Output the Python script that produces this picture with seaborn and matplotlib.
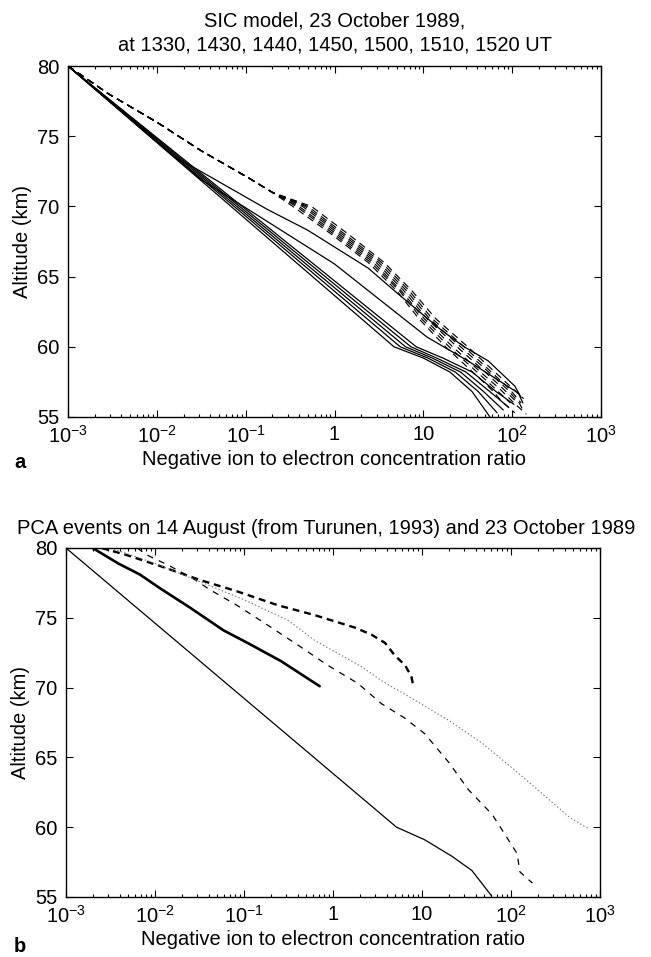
import numpy as np
import pandas as pd
import seaborn as sns
import matplotlib.pyplot as plt
from matplotlib.ticker import FixedLocator, FixedFormatter, LogLocator, NullFormatter

# ---- panel a: SIC model, values read as log10(ratio) vs altitude (km) ----
# five solid curves of the main bundle
bundle_alt = [80, 60.0, 59.2, 58.2, 56.8, 55.4]
bundle1_exp = [-3, 0.67, 1.00, 1.30, 1.55, 1.75]
bundle2_exp = [-3, 0.74, 1.05, 1.36, 1.62, 1.83]
bundle3_exp = [-3, 0.80, 1.10, 1.42, 1.68, 1.90]
bundle4_exp = [-3, 0.86, 1.15, 1.48, 1.75, 1.96]
bundle5_exp = [-3, 0.92, 1.22, 1.55, 1.82, 2.02]
bundle_end_alt = [55.0, 55.3, 55.5, 55.7, 55.9]

# two solid curves that leave the bundle
solid_mid_alt = [80, 71.9, 65.9, 60.7, 59.0, 57.8, 56.7, 56.0]
solid_mid_exp = [-3, -1.5, 0.0, 1.04, 1.50, 1.80, 2.07, 2.12]
solid_up_alt = [80, 73.5, 72.8, 69.8, 68.3, 65.6, 63.8, 61.2, 60.0, 59.0, 57.2, 56.4]
solid_up_exp = [-3, -1.8, -1.59, -0.76, -0.30, 0.38, 0.71, 1.20, 1.46, 1.73, 2.03, 2.10]

# seven dashed curves, common upper part then a fan
dash_alt = [80, 78, 76, 74, 72, 71, 70, 68, 66, 64, 62, 60, 58, 57]
dash_top_exp = [-3, -2.54, -2.00, -1.51, -0.96, -0.70]
dash1_exp = [-0.26, 0.16, 0.56, 0.87, 1.14, 1.50, 1.84, 2.01]
dash2_exp = [-0.30, 0.12, 0.53, 0.84, 1.10, 1.46, 1.80, 1.97]
dash3_exp = [-0.33, 0.09, 0.50, 0.81, 1.07, 1.42, 1.77, 1.94]
dash4_exp = [-0.36, 0.06, 0.47, 0.78, 1.04, 1.38, 1.73, 1.90]
dash5_exp = [-0.40, 0.03, 0.44, 0.75, 1.01, 1.33, 1.68, 1.86]
dash6_exp = [-0.43, 0.00, 0.41, 0.73, 0.98, 1.29, 1.64, 1.81]
dash7_exp = [-0.47, -0.03, 0.38, 0.70, 0.95, 1.25, 1.59, 1.76]
dash_tail_exp = [[2.13], [2.10], [2.08, 2.12], [2.06], [2.02, 2.16], [1.98], [1.90, 2.03]]
dash_tail_alt = [[56.3], [56.0], [56.0, 55.5], [56.0], [56.0, 55.2], [56.0], [56.0, 55.3]]

# ---- panel b: PCA events ----
thin_alt = [80, 60.0, 59.1, 57.9, 56.9, 55.1]
thin_exp = [-3, 0.714, 1.03, 1.34, 1.56, 1.78]

thick_alt = [80, 78.9, 78.1, 77.1, 75.7, 74.1, 73.2, 71.9, 70.1]
thick_exp = [-2.70, -2.415, -2.17, -1.94, -1.60, -1.23, -0.96, -0.585, -0.15]

heavy_alt = [80, 79.5, 78.7, 77.7, 76.9, 75.9, 75.2, 74.3, 73.8, 73.2, 72.3, 71.6, 70.8, 70.2]
heavy_exp = [-2.6, -2.32, -1.94, -1.49, -1.08, -0.62, -0.21, 0.245, 0.43, 0.585, 0.695, 0.81, 0.88, 0.90]

tdash_alt = [80, 79.5, 78.7, 77.8, 77.0, 75.9, 74.5, 72.9, 71.6, 70.3, 68.85, 67.8, 66.7,
             64.65, 62.7, 60.9, 58.8, 58.1, 57.2, 56.8, 56.0]
tdash_exp = [-2.2, -2.09, -1.83, -1.57, -1.38, -1.08, -0.74, -0.36, -0.06, 0.28, 0.544, 0.81,
             1.03, 1.30, 1.52, 1.79, 2.00, 2.07, 2.09, 2.10, 2.24]

dot_alt = [80, 78.9, 77.6, 76.3, 74.8, 73.4, 71.5, 70.5, 69.1, 67.65, 66.0, 64.05, 62.4, 60.7, 60.0, 59.9]
dot_exp = [-2.5, -2.0, -1.5, -1.0, -0.5, -0.21, 0.32, 0.544, 0.92, 1.30, 1.68, 2.05, 2.35, 2.66, 2.84, 2.88]

xtick_vals = [1e-3, 1e-2, 1e-1, 1, 10, 1e2, 1e3]
xtick_text = ['$10^{-3}$', '$10^{-2}$', '$10^{-1}$', '1', '10', '$10^{2}$', '$10^{3}$']
ytick_vals = [55, 60, 65, 70, 75, 80]

sns.set_style("ticks")
plt.rcParams['font.family'] = ['Liberation Sans', 'DejaVu Sans']
plt.rcParams['mathtext.fontset'] = 'custom'
plt.rcParams['mathtext.rm'] = 'Liberation Sans'
plt.rcParams['mathtext.default'] = 'regular'
plt.rcParams['lines.scale_dashes'] = False
for key in ['text.color', 'axes.labelcolor', 'xtick.color', 'ytick.color']:
    plt.rcParams[key] = 'black'
FS = 14.5


def draw(ax, exps, alts, lw=0.9, ls='-', color='k'):
    df = pd.DataFrame({'ratio': np.power(10.0, exps), 'alt': alts})
    sns.lineplot(data=df, x='ratio', y='alt', ax=ax, color=color, lw=lw,
                 linestyle=ls, sort=False, estimator=None)


def style_axes(ax):
    ax.set_xscale('log')
    ax.set_xlim(1e-3, 1e3)
    ax.set_ylim(55, 80)
    ax.xaxis.set_major_locator(FixedLocator(xtick_vals))
    ax.xaxis.set_major_formatter(FixedFormatter(xtick_text))
    ax.xaxis.set_minor_locator(LogLocator(base=10, subs=np.arange(2, 10)))
    ax.xaxis.set_minor_formatter(NullFormatter())
    ax.set_yticks(ytick_vals)
    ax.tick_params(which='both', direction='in', top=True, right=True,
                   labelsize=FS, width=0.8, colors='black')
    ax.tick_params(which='major', length=5, pad=6)
    ax.tick_params(which='minor', length=2.5)
    for s in ax.spines.values():
        s.set_linewidth(1.0)
        s.set_color('k')
    ax.set_xlabel('Negative ion to electron concentration ratio', fontsize=FS, labelpad=2)
    ax.set_ylabel('Altitude (km)', fontsize=FS, labelpad=4)


fig = plt.figure(figsize=(6.51, 9.57), dpi=100)
ax1 = fig.add_axes([68 / 651, 1 - 417 / 957, 533 / 651, 351 / 957])
ax2 = fig.add_axes([66 / 651, 1 - 897 / 957, 534 / 651, 349 / 957])

# panel a
bundles = [bundle1_exp, bundle2_exp, bundle3_exp, bundle4_exp, bundle5_exp]
for b, end_alt in zip(bundles, bundle_end_alt):
    draw(ax1, b, bundle_alt[:-1] + [end_alt])
draw(ax1, solid_mid_exp, solid_mid_alt)
draw(ax1, solid_up_exp, solid_up_alt)

dashes = [dash1_exp, dash2_exp, dash3_exp, dash4_exp, dash5_exp, dash6_exp, dash7_exp]
for d, te, ta in zip(dashes, dash_tail_exp, dash_tail_alt):
    draw(ax1, dash_top_exp + d + te, dash_alt + ta, lw=0.85, ls=(0, (5, 3.5)))
style_axes(ax1)
ax1.set_title('SIC model, 23 October 1989,\nat 1330, 1430, 1440, 1450, 1500, 1510, 1520 UT',
              fontsize=FS, pad=11, linespacing=1.35)

# panel b
draw(ax2, thin_exp, thin_alt, lw=0.9)
draw(ax2, thick_exp, thick_alt, lw=1.9)
draw(ax2, heavy_exp, heavy_alt, lw=1.7, ls=(0, (5, 3.5)))
draw(ax2, tdash_exp, tdash_alt, lw=0.9, ls=(0, (4.5, 4.5)))
draw(ax2, dot_exp, dot_alt, lw=0.8, ls=(0, (1, 1.6)), color='0.45')
style_axes(ax2)
fig.text(326 / 651, 1 - 529 / 957,
         'PCA events on 14 August (from Turunen, 1993) and 23 October 1989',
         ha='center', va='center', fontsize=FS)

fig.text(20 / 651, 1 - 462 / 957, 'a', fontsize=FS, fontweight='bold', ha='center', va='center')
fig.text(20 / 651, 1 - 946 / 957, 'b', fontsize=FS, fontweight='bold', ha='center', va='center')

fig.savefig('out.png', dpi=100)
